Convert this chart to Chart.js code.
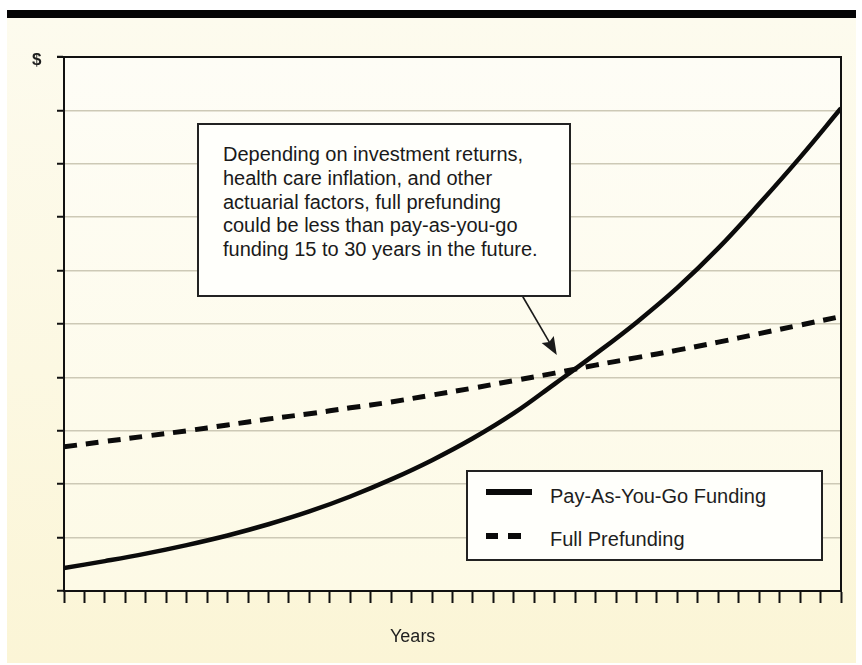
<!DOCTYPE html>
<html>
<head>
<meta charset="utf-8">
<script src="https://cdn.jsdelivr.net/npm/chart.js@4/dist/chart.umd.min.js"></script>
<style>
  html, body { margin:0; padding:0; background:#ffffff; }
  #wrap { position:relative; width:862px; height:665px; overflow:hidden; font-family:"Liberation Sans", Arial, Helvetica, sans-serif; color:#1e1e1e; }
  #panel { position:absolute; left:7px; top:18px; width:849px; height:645px;
           background:linear-gradient(to bottom, #fdfbee 0%, #fcf8e2 55%, #fbf5d6 100%); }
  #topbar { position:absolute; left:7px; top:10px; width:849px; height:8px; background:#050505; }
  #c { position:absolute; left:0; top:0; }
  .txt { position:absolute; white-space:nowrap; line-height:1; }
  #note { position:absolute; left:197px; top:123px; width:370px; height:170px; border:2px solid #222;
          background:#fffffb; box-sizing:content-box; }
  #note p { margin:0; padding:18px 0 0 24px; font-size:20px; line-height:23.8px; color:#1a1a1a; }
  #legend { position:absolute; left:466px; top:470px; width:353px; height:87px; border:2px solid #222; background:#fffffb; }
  .sw { position:absolute; background:#0a0a0a; }
</style>
</head>
<body>
<div id="wrap">
  <div id="panel"></div>
  <div id="topbar"></div>
  <canvas id="c" width="862" height="665"></canvas>
  <div class="txt" id="dollar" style="left:32px; top:51px; font-size:17px; font-weight:bold;">$</div>
  <div class="txt" id="xtitle" style="left:390px; top:627px; font-size:18px;">Years</div>
  <div id="note"><p>Depending on investment returns,<br>health care inflation, and other<br>actuarial factors, full prefunding<br>could be less than pay-as-you-go<br>funding 15 to 30 years in the future.</p></div>
  <div id="legend"></div>
</div>
<script>
// ---- data ----
const years   = [0, 2, 4, 6, 8, 10, 12, 14, 16, 18, 20, 22, 24, 26, 28, 30, 32, 34, 36, 38];
const payGo   = [0.43, 0.56, 0.70, 0.86, 1.04, 1.25, 1.49, 1.77, 2.09, 2.45, 2.86, 3.33, 3.88, 4.44, 5.03, 5.68, 6.42, 7.25, 8.12, 9.04];
const prefund = [2.70, 2.80, 2.90, 3.00, 3.11, 3.22, 3.32, 3.43, 3.54, 3.67, 3.80, 3.94, 4.08, 4.23, 4.37, 4.51, 4.66, 4.82, 4.98, 5.14];
const seriesNames = ["Pay-As-You-Go Funding", "Full Prefunding"];
const yMin = 0, yMax = 10, yStep = 1;
const xMin = 0, xMax = 38, xStep = 1;
const arrowFrom = { x: 22.44, y: 5.51 };
const arrowTo   = { x: 24.1,  y: 4.42 };

const toXY = (vals) => years.map((t, i) => ({ x: t, y: vals[i] }));

const decor = {
  id: 'decor',
  beforeDraw(chart) {
    const { ctx, chartArea: a } = chart;
    const g = ctx.createLinearGradient(0, a.top, 0, a.bottom);
    g.addColorStop(0, '#fefdf6');
    g.addColorStop(1, '#fdfae6');
    ctx.save();
    ctx.fillStyle = g;
    ctx.fillRect(a.left, a.top, a.right - a.left, a.bottom - a.top);
    ctx.restore();
  },
  afterDatasetsDraw(chart) {
    const { ctx, chartArea: a, scales } = chart;
    ctx.save();
    ctx.strokeStyle = '#111';
    ctx.lineWidth = 2;
    ctx.beginPath();
    ctx.moveTo(a.left - 7, a.top);
    ctx.lineTo(a.right, a.top);
    ctx.lineTo(a.right, a.bottom);
    ctx.stroke();
    // arrow
    const x1 = scales.x.getPixelForValue(arrowFrom.x), y1 = scales.y.getPixelForValue(arrowFrom.y);
    const x2 = scales.x.getPixelForValue(arrowTo.x),   y2 = scales.y.getPixelForValue(arrowTo.y);
    const ang = Math.atan2(y2 - y1, x2 - x1);
    const hl = 15, hw = 7;
    const bx = x2 - hl * Math.cos(ang), by = y2 - hl * Math.sin(ang);
    ctx.lineWidth = 1.6;
    ctx.strokeStyle = '#1a1a1a';
    ctx.beginPath();
    ctx.moveTo(x1, y1);
    ctx.lineTo(bx + 4 * Math.cos(ang), by + 4 * Math.sin(ang));
    ctx.stroke();
    ctx.fillStyle = '#1a1a1a';
    ctx.beginPath();
    ctx.moveTo(x2, y2);
    ctx.lineTo(bx - hw * Math.sin(ang) - 3 * Math.cos(ang), by + hw * Math.cos(ang) - 3 * Math.sin(ang));
    ctx.lineTo(bx, by);
    ctx.lineTo(bx + hw * Math.sin(ang) - 3 * Math.cos(ang), by - hw * Math.cos(ang) - 3 * Math.sin(ang));
    ctx.closePath();
    ctx.fill();
    ctx.restore();
  }
};

const chart = new Chart(document.getElementById('c'), {
  type: 'line',
  data: {
    datasets: [
      { label: seriesNames[0], data: toXY(payGo), borderColor: '#0b0b0b', borderWidth: 4.5,
        pointRadius: 0, tension: 0.4, fill: false },
      { label: seriesNames[1], data: toXY(prefund), borderColor: '#0b0b0b', borderWidth: 5,
        borderDash: [13, 9], borderCapStyle: 'butt', pointRadius: 0, tension: 0.4, fill: false }
    ]
  },
  options: {
    responsive: false,
    animation: false,
    devicePixelRatio: 1,
    layout: { padding: { left: 57, right: 21, top: 57, bottom: 62 } },
    plugins: { legend: { display: false }, tooltip: { enabled: false } },
    scales: {
      x: {
        type: 'linear', min: xMin, max: xMax,
        ticks: { display: false, stepSize: xStep },
        grid: { drawOnChartArea: false, drawTicks: true, tickLength: 12, tickColor: '#111', tickWidth: 2 },
        border: { display: true, color: '#111', width: 2 },
        afterFit(s) { s.height = 12; }
      },
      y: {
        min: yMin, max: yMax,
        ticks: { display: false, stepSize: yStep },
        grid: { color: '#cdc9b6', lineWidth: 1.5, drawTicks: true, tickLength: 7, tickColor: '#111', tickWidth: 2 },
        border: { display: true, color: '#111', width: 2 },
        afterFit(s) { s.width = 7; }
      }
    }
  },
  plugins: [decor]
});

// HTML legend built from the chart's datasets
const leg = document.getElementById('legend');
const rows = [ { top: 14, swTop: 17 }, { top: 57, swTop: 61 } ];
chart.data.datasets.forEach((ds, i) => {
  const r = rows[i];
  if (!ds.borderDash) {
    const s = document.createElement('div'); s.className = 'sw';
    s.style.left = '18px'; s.style.top = r.swTop + 'px'; s.style.width = '46px'; s.style.height = '6px';
    leg.appendChild(s);
  } else {
    [[18, 12], [40, 13]].forEach(([l, w]) => {
      const s = document.createElement('div'); s.className = 'sw';
      s.style.left = l + 'px'; s.style.top = r.swTop + 'px'; s.style.width = w + 'px'; s.style.height = '6px';
      leg.appendChild(s);
    });
  }
  const t = document.createElement('div'); t.className = 'txt';
  t.style.left = '82px'; t.style.top = (r.top - 0.5) + 'px'; t.style.fontSize = '20px';
  t.textContent = ds.label;
  leg.appendChild(t);
});
</script>
</body>
</html>
